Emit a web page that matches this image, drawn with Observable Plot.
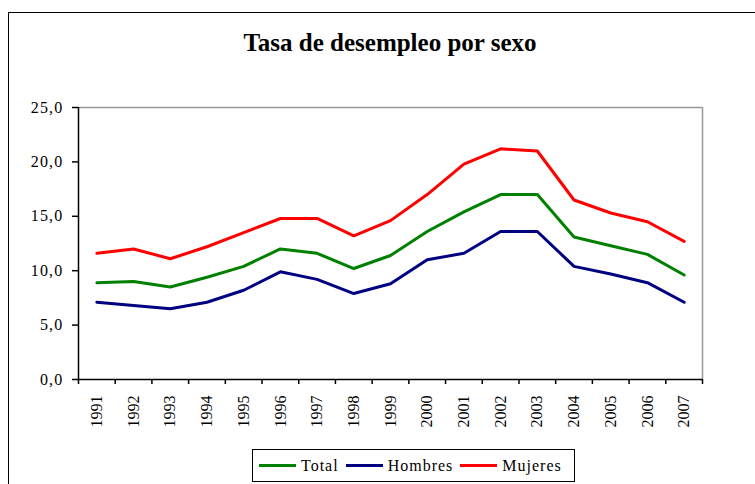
<!DOCTYPE html>
<html>
<head>
<meta charset="utf-8">
<script src="https://cdn.jsdelivr.net/npm/d3@7"></script>
<script src="https://cdn.jsdelivr.net/npm/@observablehq/plot@0.6"></script>
<style>
  html, body { margin: 0; padding: 0; background: #fff; overflow: hidden; }
  #wrap { position: relative; width: 755px; height: 484px; overflow: hidden; background: #fff; font-family: "Liberation Serif", "Times New Roman", serif; }
  #frame { position: absolute; left: 8px; top: 12px; width: 800px; height: 600px; border: 1.5px solid #000; box-sizing: border-box; }
  #title { position: absolute; left: 0; width: 780px; top: 29px; text-align: center; font-family: "Liberation Serif", "Times New Roman", serif; font-weight: bold; font-size: 25px; color: #000; }
  #chart { position: absolute; left: 0; top: 0; }
  #chart svg { font-family: "Liberation Serif", "Times New Roman", serif; font-size: 16px; }
  #chart .yax text { letter-spacing: 1.2px; }
  #legend { position: absolute; left: 252px; top: 449px; width: 323px; height: 33px; border: 1px solid #000; box-sizing: border-box; background: #fff;
            display: flex; align-items: center; padding-left: 6px; }
  #legend span { font-family: "Liberation Serif", "Times New Roman", serif; font-size: 16px; letter-spacing: 1px; color: #000; }
  .item { display: flex; align-items: center; margin-right: 7px; }
  .sw { width: 37px; height: 3px; margin-right: 5px; }
</style>
</head>
<body>
<div id="wrap">
  <div id="frame"></div>
  <div id="chart"></div>
  <div id="title">Tasa de desempleo por sexo</div>
  <div id="legend"></div>
</div>
<script>
const years = [1991,1992,1993,1994,1995,1996,1997,1998,1999,2000,2001,2002,2003,2004,2005,2006,2007];
const total   = [8.9, 9.0, 8.5, 9.4, 10.4, 12.0, 11.6, 10.2, 11.4, 13.6, 15.4, 17.0, 17.0, 13.1, 12.3, 11.5, 9.6];
const hombres = [7.1, 6.8, 6.5, 7.1, 8.2, 9.9, 9.2, 7.9, 8.8, 11.0, 11.6, 13.6, 13.6, 10.4, 9.7, 8.9, 7.1];
const mujeres = [11.6, 12.0, 11.1, 12.2, 13.5, 14.8, 14.8, 13.2, 14.6, 17.0, 19.8, 21.2, 21.0, 16.5, 15.3, 14.5, 12.7];
const yTicks = [0, 5, 10, 15, 20, 25];
const seriesNames = ["Total", "Hombres", "Mujeres"];
const seriesColors = ["#008000", "#000080", "#FF0000"];
const seriesValues = [total, hombres, mujeres];

const rows = seriesNames.map((name, s) => years.map((yr, i) => ({series: name, year: yr, value: seriesValues[s][i]})));
const boundaries = years.map(y => y - 0.5).concat([years[years.length - 1] + 0.5]);
const fmt = d => d.toFixed(1).replace(".", ",");

const chart = Plot.plot({
  width: 755,
  height: 484,
  marginLeft: 78,
  marginRight: 53,
  marginTop: 107,
  marginBottom: 105,
  style: {background: "transparent", color: "#000"},
  x: {type: "linear", domain: [boundaries[0], boundaries[boundaries.length - 1]], label: null},
  y: {domain: [0, 25], label: null},
  marks: [
    Plot.ruleY([25], {stroke: "#999", strokeWidth: 1.5}),
    Plot.ruleX([boundaries[boundaries.length - 1]], {stroke: "#999", strokeWidth: 1.5}),
    ...rows.map((r, s) => Plot.line(r, {x: "year", y: "value", stroke: seriesColors[s], strokeWidth: 3, strokeLinejoin: "miter"})),
    Plot.ruleX([boundaries[0]], {stroke: "#000", strokeWidth: 1.5}),
    Plot.ruleY([0], {stroke: "#000", strokeWidth: 1.5}),
    Plot.axisY({ticks: yTicks, tickSize: 6, tickPadding: 9, tickFormat: fmt, label: null, strokeWidth: 1.5, className: "yax", fontSize: 16}),
    Plot.axisX({ticks: boundaries, tickSize: 5, tickFormat: () => "", label: null, strokeWidth: 1.5}),
    Plot.axisX({ticks: years, tickSize: 0, tickPadding: 16, tickRotate: -90, tickFormat: d => String(d), label: null, fontSize: 16})
  ]
});
document.getElementById("chart").appendChild(chart);

const legend = document.getElementById("legend");
seriesNames.forEach((name, s) => {
  const it = document.createElement("div");
  it.className = "item";
  const sw = document.createElement("div");
  sw.className = "sw";
  sw.style.background = seriesColors[s];
  const tx = document.createElement("span");
  tx.textContent = name;
  it.appendChild(sw);
  it.appendChild(tx);
  legend.appendChild(it);
});
</script>
</body>
</html>
